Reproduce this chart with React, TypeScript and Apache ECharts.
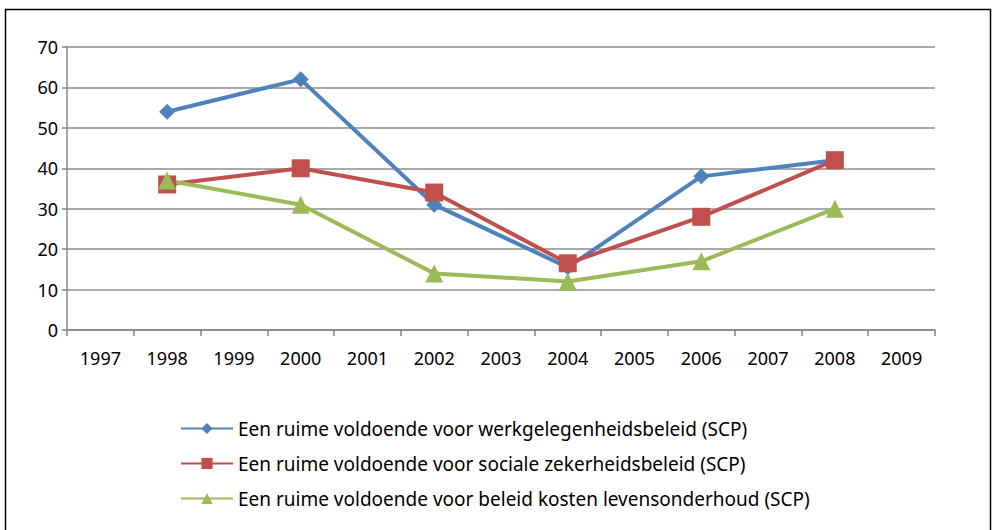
import React, { useEffect, useRef } from "react";
import * as echarts from "echarts";

const categories = ["1997", "1998", "1999", "2000", "2001", "2002", "2003", "2004", "2005", "2006", "2007", "2008", "2009"];
const werkgelegenheid = [null, 54, null, 62, null, 31, null, 15.5, null, 38, null, 42, null];
const socialeZekerheid = [null, 36, null, 40, null, 34, null, 16.5, null, 28, null, 42, null];
const kostenLevensonderhoud = [null, 37, null, 31, null, 14, null, 12, null, 17, null, 30, null];
const seriesNames = [
  "Een ruime voldoende voor werkgelegenheidsbeleid (SCP)",
  "Een ruime voldoende voor sociale zekerheidsbeleid (SCP)",
  "Een ruime voldoende voor beleid kosten levensonderhoud (SCP)",
];

const FONT = "'Noto Sans', sans-serif";

export default function App() {
  const ref = useRef<HTMLDivElement>(null);
  useEffect(() => {
    if (!ref.current) return;
    const chart = echarts.init(ref.current, undefined, { renderer: "svg" });
    const mk = (name: string, data: any[], color: string, symbol: string, size: number) => ({
      name,
      type: "line",
      data,
      connectNulls: true,
      symbol,
      symbolSize: size,
      lineStyle: { color, width: 4 },
      itemStyle: { color },
    });
    chart.setOption({
      animation: false,
      textStyle: { fontFamily: FONT },
      graphic: [
        {
          type: "rect",
          shape: { x: 5.5, y: 9.5, width: 985, height: 540 },
          style: { fill: "none", stroke: "#000", lineWidth: 1.5 },
          silent: true,
        },
      ],
      grid: { left: 67, right: 60, top: 47, bottom: 200, containLabel: false },
      xAxis: {
        type: "category",
        data: categories,
        boundaryGap: true,
        axisLine: { lineStyle: { color: "#868686", width: 1.5 } },
        axisTick: { show: true, length: 6, lineStyle: { color: "#868686", width: 1.5 } },
        axisLabel: { color: "#000", fontSize: 18, margin: 19, fontFamily: FONT },
      },
      yAxis: {
        type: "value",
        min: 0,
        max: 70,
        interval: 10,
        axisLine: { show: true, lineStyle: { color: "#868686", width: 1.5 } },
        axisTick: { show: true, length: 5, lineStyle: { color: "#868686", width: 1.5 } },
        axisLabel: { color: "#000", fontSize: 18, margin: 9, fontFamily: FONT },
        splitLine: { lineStyle: { color: "#8c8c8c", width: 1.5 } },
      },
      legend: {
        orient: "vertical",
        left: 175,
        top: 414,
        itemWidth: 52,
        itemHeight: 14,
        itemGap: 16,
        textStyle: { color: "#000", fontSize: 19, fontFamily: FONT },
        data: seriesNames,
      },
      series: [
        mk(seriesNames[0], werkgelegenheid, "#4F81BD", "diamond", 16),
        mk(seriesNames[1], socialeZekerheid, "#C0504D", "rect", 18),
        mk(seriesNames[2], kostenLevensonderhoud, "#9BBB59", "triangle", 18),
      ],
    });
    return () => chart.dispose();
  }, []);
  return (
    <div
      ref={ref}
      style={{ position: "fixed", left: 0, top: 0, width: 995, height: 530, background: "#fff" }}
    />
  );
}
